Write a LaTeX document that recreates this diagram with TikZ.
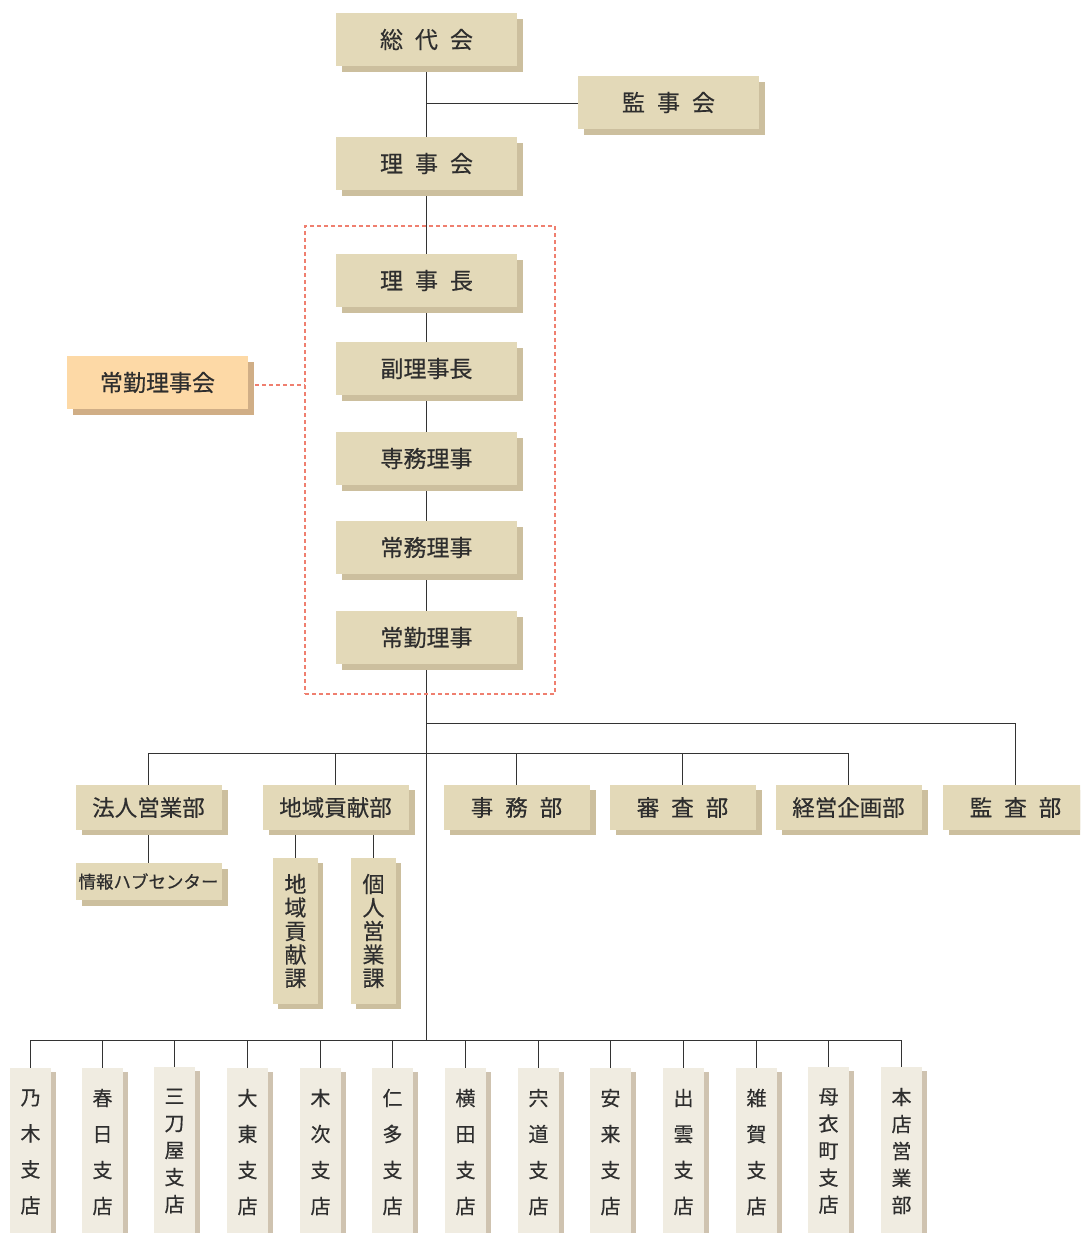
\documentclass[tikz,border=0pt]{standalone}
\usepackage{fontspec}
\setmainfont{Noto Sans CJK JP}[FakeBold=0.4]
\usetikzlibrary{shadows,backgrounds}
\definecolor{boxc}{HTML}{E3D9B8}
\definecolor{shc}{HTML}{CCBF9E}
\definecolor{orc}{HTML}{FDD9A6}
\definecolor{orsh}{HTML}{D0AE86}
\definecolor{lightc}{HTML}{F0ECE1}
\definecolor{lsh}{HTML}{CFC3B0}
\definecolor{txt}{HTML}{2E2E2E}
\definecolor{linec}{HTML}{333333}
\definecolor{redc}{HTML}{EF7F6F}
\newcommand{\gapx}{\hspace{12pt}}
\begin{document}
\begin{tikzpicture}[x=1pt,y=-1pt,
  boxa/.style={fill=boxc, minimum width=181, minimum height=53, inner sep=0pt, text=txt,
    font=\fontsize{23}{28}\selectfont,
    general shadow={fill=shc, shadow xshift=6pt, shadow yshift=-6pt}},
  boxb/.style={fill=boxc, minimum width=146, minimum height=45, inner sep=0pt, text=txt,
    font=\fontsize{22.5}{28}\selectfont,
    general shadow={fill=shc, shadow xshift=6pt, shadow yshift=-5pt}},
  hubbox/.style={fill=boxc, minimum width=146, minimum height=37, inner sep=0pt, text=txt,
    font=\fontsize{17.5}{20}\selectfont,
    general shadow={fill=shc, shadow xshift=6pt, shadow yshift=-6pt}},
  vbox/.style={fill=boxc, minimum width=45, minimum height=146, inner sep=0pt, text=txt,
    align=center, font=\fontsize{22}{23.5}\selectfont,
    general shadow={fill=shc, shadow xshift=5pt, shadow yshift=-5pt}},
  orbox/.style={fill=orc, minimum width=181, minimum height=53, inner sep=0pt, text=txt,
    font=\fontsize{23}{28}\selectfont,
    general shadow={fill=orsh, shadow xshift=6pt, shadow yshift=-6pt}},
  brfour/.style={fill=lightc, minimum width=41, minimum height=168, inner sep=0pt, text=txt,
    align=center, font=\fontsize{20}{36}\selectfont,
    general shadow={fill=lsh, shadow xshift=4.5pt, shadow yshift=-4pt}},
  brfive/.style={brfour, font=\fontsize{20}{27}\selectfont},
  conn/.style={draw=linec, line width=1.3pt},
  redline/.style={draw=redc, line width=1.2pt, dash pattern=on 4pt off 3pt}
]
\useasboundingbox (0,0) rectangle (1080,1233);
\begin{scope}
\clip (0,0) rectangle (1080,1233);

% top column
\node[boxa] (sodai) at (426.5,39.5) {総\gapx 代\gapx 会};
\node[boxa] (kanjikai) at (668.5,102.5) {監\gapx 事\gapx 会};
\node[boxa] (rijikai) at (426.5,163.5) {理\gapx 事\gapx 会};

\node[redline, minimum width=250, minimum height=468, inner sep=0pt] (frame) at (430,460) {};

\node[boxa] (richo) at (426.5,280.5) {理\gapx 事\gapx 長};
\node[boxa] (fuku) at (426.5,368.5) {副理事長};
\node[boxa] (senmu) at (426.5,458.5) {専務理事};
\node[boxa] (jomu) at (426.5,547.5) {常務理事};
\node[boxa] (jokin) at (426.5,637.5) {常勤理事};

\node[orbox] (jokinkai) at (157.5,382.5) {常勤理事会};

% department row
\node[boxb] (hojin) at (148.5,807.5) {法人営業部};
\node[boxb] (chiiki) at (335.5,807.5) {地域貢献部};
\node[boxb] (jimu) at (516.5,807.5) {事\gapx 務\gapx 部};
\node[boxb] (shinsa) at (682.5,807.5) {審\gapx 査\gapx 部};
\node[boxb] (keiei) at (848.5,807.5) {経営企画部};
\node[boxb] (kansa) at (1015.5,807.5) {監\gapx 査\gapx 部};

\node[hubbox] (hub) at (148.5,881.5) {情報ハブセンター};
\node[vbox] (kaken) at (295.5,931) {地\\域\\貢\\献\\課};
\node[vbox] (kojin) at (373.5,931) {個\\人\\営\\業\\課};

% branches
\node[brfour] (b1) at (30.5,1152) {乃\\木\\支\\店};
\node[brfour] (b2) at (102.5,1152) {春\\日\\支\\店};
\node[brfive] (b3) at (174.5,1151) {三\\刀\\屋\\支\\店};
\node[brfour] (b4) at (247.5,1152) {大\\東\\支\\店};
\node[brfour] (b5) at (320.5,1152) {木\\次\\支\\店};
\node[brfour] (b6) at (392.5,1152) {仁\\多\\支\\店};
\node[brfour] (b7) at (465.5,1152) {横\\田\\支\\店};
\node[brfour] (b8) at (538.5,1152) {宍\\道\\支\\店};
\node[brfour] (b9) at (610.5,1152) {安\\来\\支\\店};
\node[brfour] (b10) at (683.5,1152) {出\\雲\\支\\店};
\node[brfour] (b11) at (756.5,1152) {雑\\賀\\支\\店};
\node[brfive] (b12) at (828.5,1151) {母\\衣\\町\\支\\店};
\node[brfive] (b13) at (901.5,1151) {本\\店\\営\\業\\部};

% bus coordinates
\coordinate (busA) at (426.5,723.5);
\coordinate (busB) at (426.5,753.5);
\coordinate (busC) at (426.5,1040.5);
\end{scope}

\begin{scope}[on background layer]
% trunk
\draw[conn] (sodai.south) -- (rijikai.north);
\draw[conn] (kanjikai.west |- 0,103.5) -- (sodai.south |- 0,103.5);
\draw[conn] (rijikai.south) -- (richo.north);
\draw[conn] (richo.south) -- (fuku.north);
\draw[conn] (fuku.south) -- (senmu.north);
\draw[conn] (senmu.south) -- (jomu.north);
\draw[conn] (jomu.south) -- (jokin.north);
\draw[conn] (jokin.south) -- (busC);
% dashed link
\draw[redline] (jokinkai.east |- 0,385) -- (frame.west |- 0,385);
% upper bus to audit
\draw[conn] (busA) -| (kansa.north);
% department bus
\draw[conn] (hojin.north) |- (busB) -| (keiei.north);
\draw[conn] (chiiki.north) -- (chiiki.north |- busB);
\draw[conn] (jimu.north) -- (jimu.north |- busB);
\draw[conn] (shinsa.north) -- (shinsa.north |- busB);
% sub units
\draw[conn] (hojin.south) -- (hub.north);
\draw[conn] (kaken.north) -- (kaken.north |- chiiki.south);
\draw[conn] (kojin.north) -- (kojin.north |- chiiki.south);
% branch bus
\draw[conn] (b1.north) |- (busC) -| (b13.north);
\foreach \i in {2,...,12} {
  \draw[conn] (b\i.north) -- (b\i.north |- busC);
}
\end{scope}
\end{tikzpicture}
\end{document}
